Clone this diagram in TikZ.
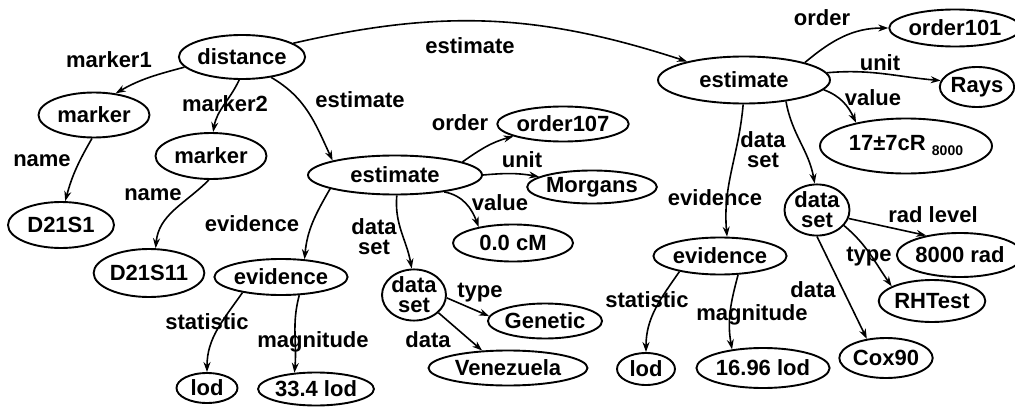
\documentclass[tikz,border=0pt]{standalone}
\usepackage{fontspec}
\setmainfont{Liberation Sans}
\usetikzlibrary{shapes.geometric,arrows.meta}
\begin{document}
\begin{tikzpicture}[x=1pt,y=1pt,
  font=\fontsize{22}{20}\selectfont\bfseries,
  nd/.style={ellipse, draw, line width=1.9pt, inner sep=0pt, align=center},
  lbl/.style={inner sep=0pt, align=center},
  ed/.style={draw, line width=1.6pt, -{Stealth[length=10pt,width=7pt]}}]
\useasboundingbox (0,0) rectangle (1015,408);

% entity nodes
\node[nd, minimum width=118pt, minimum height=44pt] (dist) at (242,351) {distance};
\node[nd, minimum width=111pt, minimum height=45pt] (mk1) at (94,293) {marker};
\node[nd, minimum width=111pt, minimum height=46pt] (mk2) at (211,252) {marker};
\node[nd, minimum width=106pt, minimum height=46pt] (d1) at (61,183) {D21S1};
\node[nd, minimum width=105pt, minimum height=48pt] (d11) at (149,135) {D21S11};
\node[nd, minimum width=118pt, minimum height=36pt] (evL) at (281,131) {evidence};
\node[nd, minimum width=61pt, minimum height=30pt] (lodL) at (207,20) {lod};
\node[nd, minimum width=107pt, minimum height=33pt] (magL) at (316,19) {33.4 lod};
\node[nd, minimum width=174pt, minimum height=39pt] (estM) at (395,233) {estimate};
\node[nd, minimum width=107pt, minimum height=35pt] (o107) at (563,284) {order107};
\node[nd, minimum width=119pt, minimum height=33pt] (morg) at (592,221) {Morgans};
\node[nd, minimum width=120pt, minimum height=37pt] (cm) at (513,165) {0.0 cM};
\node[nd, minimum width=62pt, minimum height=50pt] (dsM) at (414,113) {data\\set};
\node[nd, minimum width=100pt, minimum height=35pt] (gen) at (545,87) {Genetic};
\node[nd, minimum width=159pt, minimum height=35pt] (ven) at (508,40) {Venezuela};
\node[nd, minimum width=172pt, minimum height=47pt] (estR) at (744,328) {estimate};
\node[nd, minimum width=106pt, minimum height=37pt] (o101) at (955,380) {order101};
\node[nd, minimum width=67pt, minimum height=40pt] (rays) at (977,321) {Rays};
\node[nd, minimum width=172pt, minimum height=55pt] (val) at (906,262) {17±7cR {\fontsize{14}{14}\selectfont\raisebox{-5pt}{8000}}};
\node[nd, minimum width=117pt, minimum height=37pt] (evR) at (720,152) {evidence};
\node[nd, minimum width=65pt, minimum height=46pt] (dsR) at (817,198) {data\\set};
\node[nd, minimum width=110pt, minimum height=44pt] (rad) at (960,153) {8000 rad};
\node[nd, minimum width=100pt, minimum height=42pt] (rht) at (932,107) {RHTest};
\node[nd, minimum width=83pt, minimum height=40pt] (cox) at (886,50) {Cox90};
\node[nd, minimum width=58pt, minimum height=32pt] (lodR) at (646,39) {lod};
\node[nd, minimum width=117pt, minimum height=40pt] (magR) at (763,40) {16.96 lod};

% edge labels
\node[lbl] (tm1) at (109,348) {marker1};
\node[lbl] (tm2) at (225,304) {marker2};
\node[lbl] (tes1) at (360,308) {estimate};
\node[lbl] (tes2) at (470,362) {estimate};
\node[lbl] (tn1) at (42,247) {name};
\node[lbl] (tn2) at (153,213) {name};
\node[lbl] (tevL) at (252,184) {evidence};
\node[lbl] (tstL) at (207,86) {statistic};
\node[lbl] (tmgL) at (313,66) {magnitude};
\node[lbl] (toM) at (460,285) {order};
\node[lbl] (tuM) at (522,248) {unit};
\node[lbl] (tvM) at (500,205) {value};
\node[lbl] (tdsM) at (374,171) {data\\set};
\node[lbl] (ttM) at (480,115) {type};
\node[lbl] (tdM) at (428,68) {data};
\node[lbl] (toR) at (822,390) {order};
\node[lbl] (tuR) at (880,345) {unit};
\node[lbl] (tvR) at (873,310) {value};
\node[lbl] (tdsR) at (763,258) {data\\set};
\node[lbl] (tevR) at (715,210) {evidence};
\node[lbl] (trl) at (933,193) {rad level};
\node[lbl] (ttR) at (869,151) {type};
\node[lbl] (tdR) at (813,118) {data};
\node[lbl] (tstR) at (647,108) {statistic};
\node[lbl] (tmgR) at (752,93) {magnitude};

% connectors
\draw[ed] (dist.190) to[out=195,in=30] (mk1.45);
\draw[ed] (dist.-97) to[out=245,in=80] (mk2.85);
\draw[ed] (dist.-35) to[out=-30,in=115] (estM.167);
\draw[ed] (dist.15) to[out=13,in=162] (estR.162);
\draw[ed] (mk1.-95) to[out=240,in=75] (d1.80);
\draw[ed] (mk2.-95) to[out=225,in=85] (d11.75);
\draw[ed] (estM.192) to[out=240,in=85] (evL.37);
\draw[ed] (estM.-85) to[out=265,in=100] (dsM.95);
\draw[ed] (estM.11) to[out=35,in=195] (o107.194);
\draw[ed] (estM.0) to[out=5,in=170] (morg.169);
\draw[ed] (estM.-19) to[out=-10,in=110] (cm.155);
\draw[ed] (evL.202) to[out=235,in=90] (lodL.north);
\draw[ed] (evL.-45) to[out=255,in=85] (magL.143);
\draw[ed] (dsM.-5) -- (gen.175);
\draw[ed] (dsM.-36) -- (ven.146);
\draw[ed] (estR.16) to[out=40,in=180] (o101.west);
\draw[ed] (estR.5) to[out=5,in=175] (rays.170);
\draw[ed] (estR.-7) to[out=-20,in=115] (val.155);
\draw[ed] (estR.-92) to[out=265,in=95] (evR.70);
\draw[ed] (estR.-27) to[out=280,in=100] (dsR.95);
\draw[ed] (dsR.-15) -- (rad.150);
\draw[ed] (dsR.-30) to[out=-40,in=125] (rht.160);
\draw[ed] (dsR.-90) -- (cox.135);
\draw[ed] (evR.201) to[out=235,in=90] (lodR.north);
\draw[ed] (evR.-46) to[out=255,in=100] (magR.149);
\end{tikzpicture}
\end{document}
